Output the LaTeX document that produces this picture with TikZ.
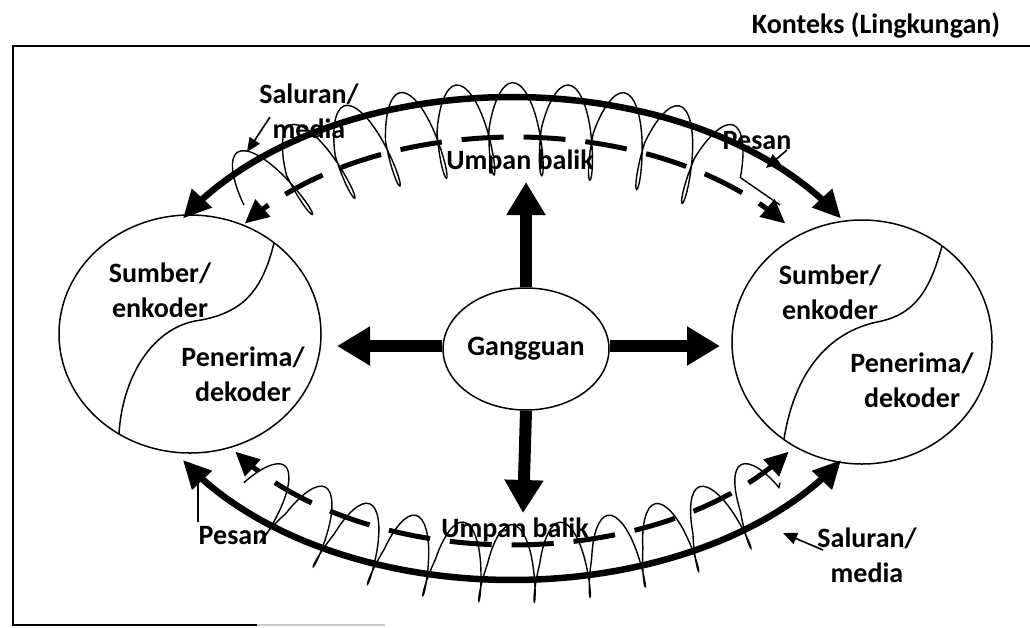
\documentclass[tikz,border=0pt]{standalone}
\usepackage{fontspec}
\setmainfont{Carlito}
\usetikzlibrary{arrows.meta,decorations.pathmorphing,shapes.geometric}
\begin{document}
\begin{tikzpicture}[x=1pt,y=-1pt,
 lbl/.style={font=\fontsize{28}{35}\selectfont\bfseries, align=center, inner sep=0pt},
 outline/.style={line width=1.5pt},
 blob/.style={draw, ellipse, line width=1.5pt, inner sep=0pt},
 thickarc/.style={line width=6.5pt, {Triangle[length=28pt,width=26pt]}-{Triangle[length=28pt,width=26pt]}},
 dasharc/.style={line width=5pt, dash pattern=on 42pt off 20pt, {Triangle[length=24pt,width=22pt]}-{Triangle[length=24pt,width=22pt]}},
 bigarrow/.style={line width=12pt, -{Triangle[length=33pt,width=37pt]}},
 wave/.style={line width=1.4pt, decorate, decoration={coil, amplitude=#1, segment length=52pt, aspect=0.25}},
 lblarrow/.style={line width=1.6pt, -{Triangle[length=14pt,width=12pt]}}
]
\useasboundingbox (0,0) rectangle (1030,627);

% frame
\draw[line width=2pt] (1030,46) -- (13,46) -- (13,625) -- (257,625);
\draw[gray!40, line width=1.5pt] (257,625) -- (385,625);
\node[lbl] (ctx) at (876,25) {Konteks (Lingkungan)};

% communicators
\node[blob, minimum width=262pt, minimum height=238pt] (src) at (190,334) {};
\node[blob, minimum width=260pt, minimum height=244pt] (dst) at (862,342) {};
\draw[outline] (274,243) .. controls (262,292) and (242,314) .. (195,321)
  .. controls (150,330) and (122,380) .. (119,434);
\draw[outline] (942,246) .. controls (930,290) and (915,315) .. (877,322)
  .. controls (830,332) and (795,370) .. (784,439);

\node[lbl] (srcA) at (160,290) {Sumber/\\enkoder};
\node[lbl] (srcB) at (243,374) {Penerima/\\dekoder};
\node[lbl] (dstA) at (830,292) {Sumber/\\enkoder};
\node[lbl] (dstB) at (912,380) {Penerima/\\dekoder};

% labels on the arcs
\node[lbl] (sal1) at (309,111) {Saluran/\\media};
\node[lbl] (sal2) at (867,555) {Saluran/\\media};
\node[lbl] (pes1) at (757,141) {Pesan};
\node[lbl] (pes2) at (233,536) {Pesan};
\node[lbl] (ub1) at (520,162) {Umpan balik};
\node[lbl] (ub2) at (515,530) {Umpan balik};

% waves (channel)
\draw[wave=47pt] plot[domain=140:40, samples=90, variable=\t] ({512+350*cos(\t)},{340-210*sin(\t)});
\draw[wave=38pt] plot[domain=-140:-40, samples=90, variable=\t] ({512+350*cos(\t)},{340-222*sin(\t)});

% feedback (dashed)
\draw[dasharc] plot[domain=145:35, samples=90, variable=\t] ({515+330*cos(\t)},{340-203*sin(\t)});
\draw[dasharc] plot[domain=-147:-33, samples=90, variable=\t] ({512+330*cos(\t)},{340-205*sin(\t)});

% messages (thick)
\draw[thickarc] plot[domain=150:30, samples=90, variable=\t] ({512+380*cos(\t)},{340-243*sin(\t)});
\draw[thickarc] plot[domain=-150:-30, samples=90, variable=\t] ({512+380*cos(\t)},{340-240*sin(\t)});

% label pointers
\coordinate (s1a) at (270,117); \coordinate (s1b) at (247,152);
\coordinate (s2a) at (823,550); \coordinate (s2b) at (783,533);
\coordinate (p1a) at (787,150); \coordinate (p1b) at (766,168);
\coordinate (p2a) at (198,522); \coordinate (p2b) at (198,466);
\draw[lblarrow] (s1a) -- (s1b);
\draw[lblarrow] (s2a) -- (s2b);
\draw[lblarrow] (p1a) -- (p1b);
\draw[lblarrow] (p2a) -- (p2b);

% noise
\node[blob, lbl, draw, minimum width=148pt, minimum height=122pt] (noise) at (526,349) {Gangguan};
\coordinate (nUp) at (526,182);
\coordinate (nLeft) at (337,346);
\coordinate (nRight) at (720,346);
\coordinate (nDown) at (523,513);
\draw[bigarrow] (noise.north) -- (nUp);
\draw[bigarrow] (noise.west |- nLeft) -- (nLeft);
\draw[bigarrow] (noise.east |- nRight) -- (nRight);
\draw[bigarrow] (noise.south) -- (nDown);
\end{tikzpicture}
\end{document}
